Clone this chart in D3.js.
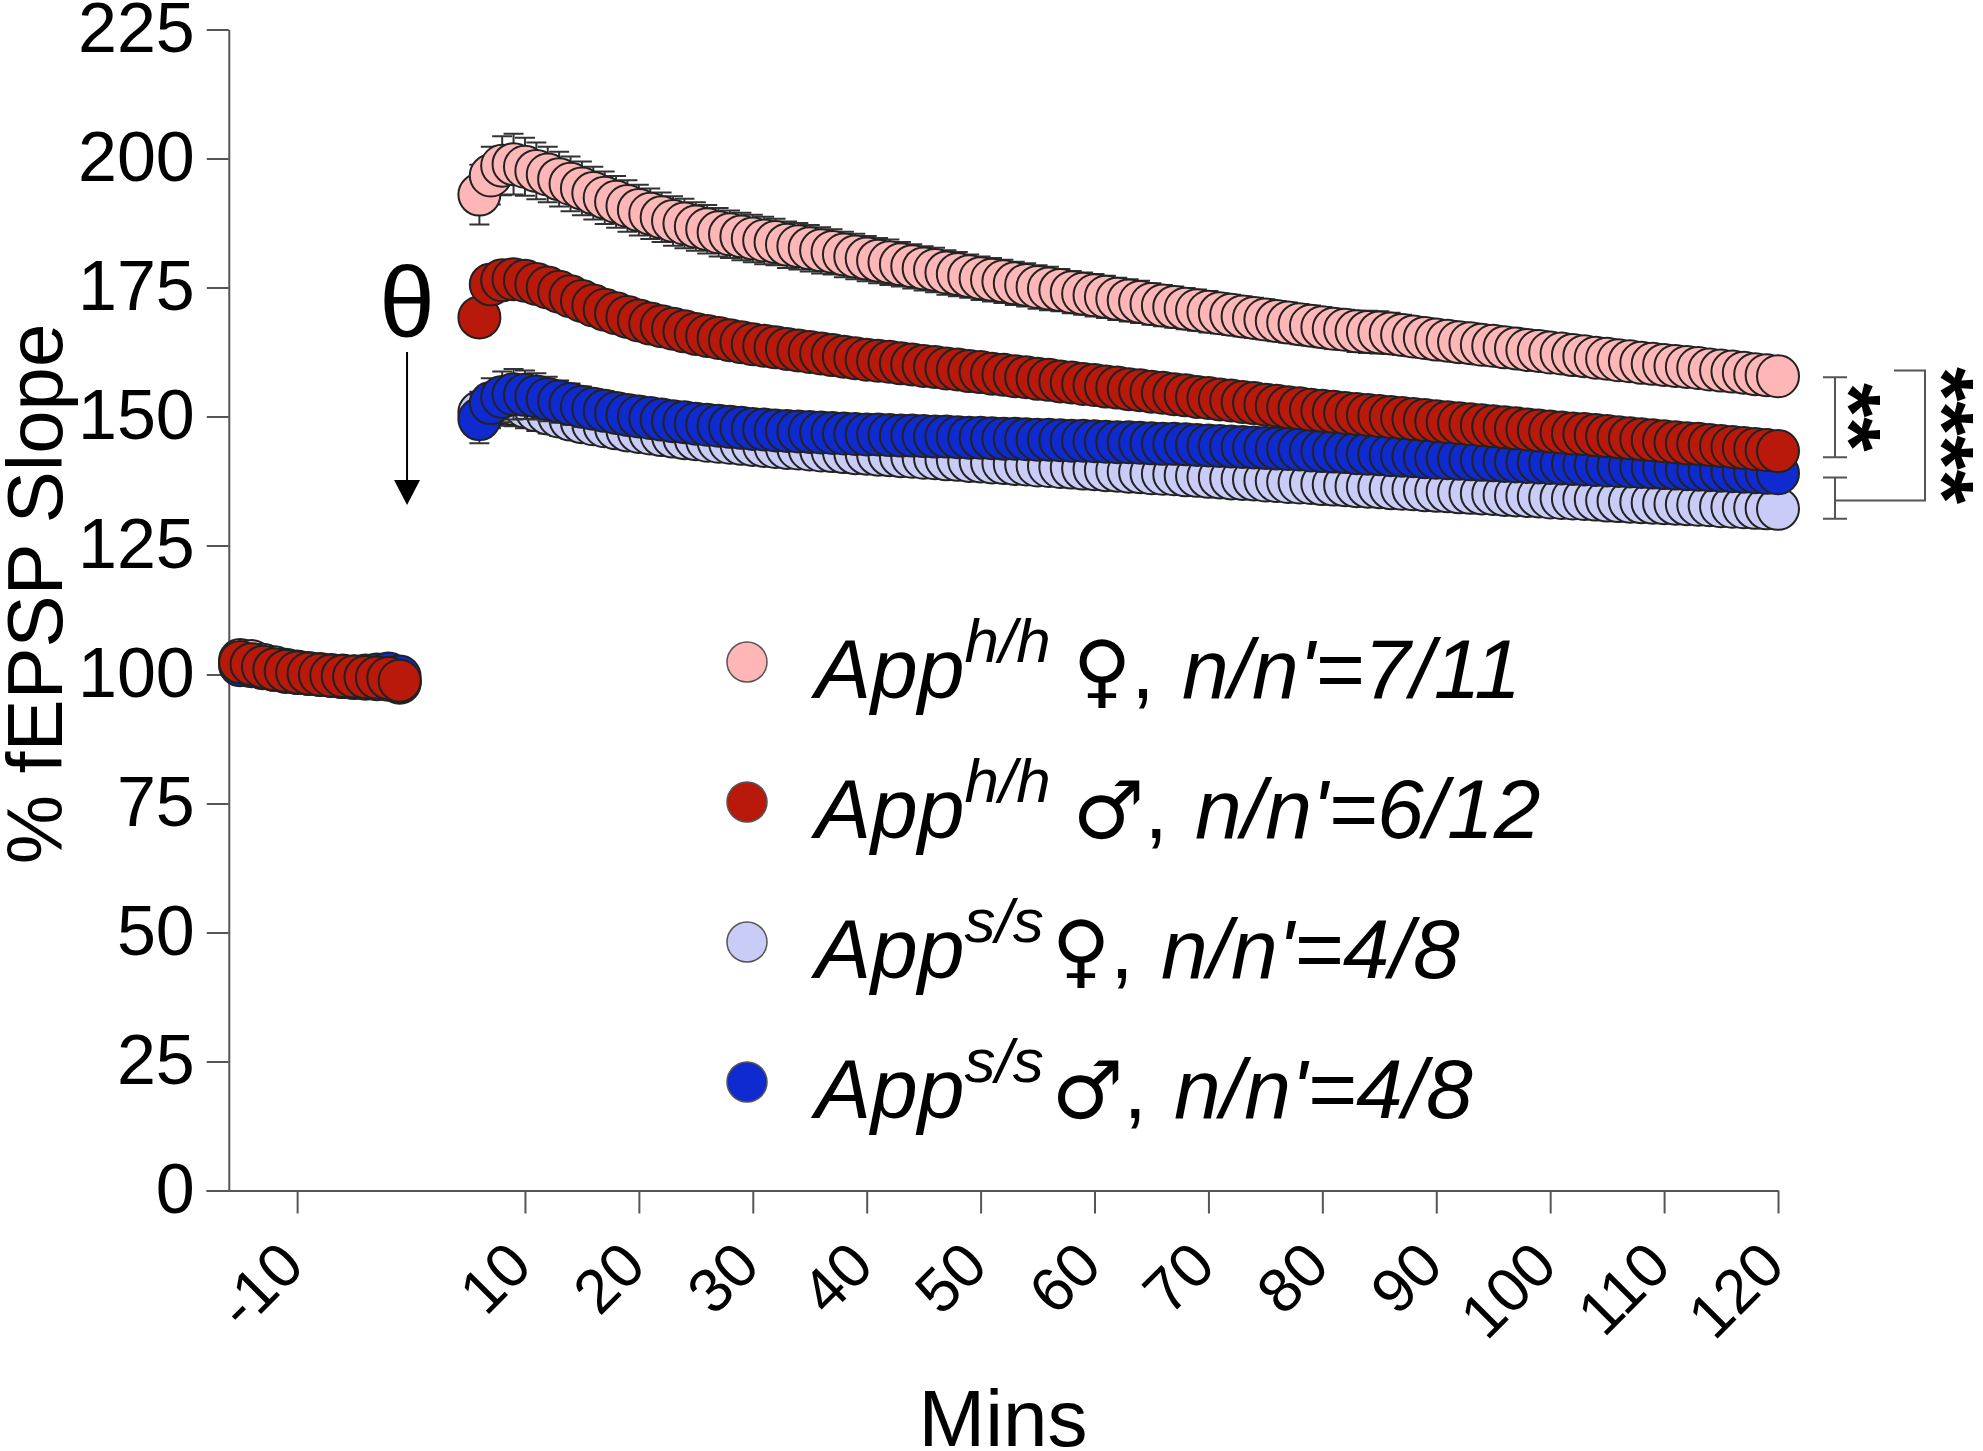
<!DOCTYPE html>
<html lang="en">
<head>
<meta charset="UTF-8">
<title>% fEPSP Slope</title>
<script src="https://cdn.jsdelivr.net/npm/d3@7"></script>
<style>
  body { margin: 0; background: #fff; }
  svg { display: block; font-family: "Liberation Sans", Arial, sans-serif; }
  .axis path, .axis line { stroke: #555; stroke-width: 2; }
  .axis text { fill: #000; }
</style>
</head>
<body>
<svg id="chart" width="1983" height="1451"></svg>
<script>
// time points (min)
const baseMins = [-15, -14, -13, -12, -11, -10, -9, -8, -7, -6, -5, -4, -3, -2, -1];
const postMins = d3.range(6, 121);

// baseline values (-15..-1)
const pinkBase = [102.8, 102.6, 101.9, 101.4, 100.9, 100.6, 100.3, 100.1, 99.9, 99.8, 99.6, 99.5, 99.4, 99.2, 98.4];
const redBase = [102.4, 102.0, 101.5, 101.0, 100.7, 100.4, 100.2, 100.0, 99.8, 99.7, 99.6, 99.5, 99.4, 99.3, 98.8];
const lavBase = [102.0, 101.8, 101.4, 100.9, 100.6, 100.3, 100.1, 99.9, 99.7, 99.5, 99.3, 99.2, 99.1, 99.0, 98.6];
const blueBase = [101.8, 101.6, 101.2, 100.9, 100.5, 100.3, 100.1, 99.9, 99.7, 99.5, 99.6, 99.8, 100.0, 100.2, 99.6];

// post-theta values (6..120 min)
const pinkPost = [
  193.0, 196.7, 198.6, 198.9, 198.4, 197.6, 196.9, 196.0, 195.1, 194.2,
  193.3, 192.4, 191.6, 190.8, 190.0, 189.3, 188.6, 187.9, 187.4, 186.8,
  186.3, 185.7, 185.3, 184.9, 184.5, 184.1, 183.8, 183.3, 183.0, 182.6,
  182.2, 181.9, 181.4, 181.0, 180.6, 180.2, 179.9, 179.5, 179.1, 178.7,
  178.4, 177.9, 177.6, 177.2, 176.8, 176.5, 176.2, 175.8, 175.5, 175.1,
  174.8, 174.5, 174.1, 173.8, 173.5, 173.2, 172.8, 172.5, 172.2, 171.8,
  171.5, 171.2, 170.9, 170.6, 170.3, 170.0, 169.7, 169.4, 169.1, 168.8,
  168.5, 168.2, 167.9, 167.6, 167.3, 167.0, 166.8, 166.5, 166.4, 166.3,
  166.1, 165.8, 165.5, 165.2, 164.9, 164.7, 164.4, 164.2, 163.9, 163.7,
  163.4, 163.2, 162.9, 162.7, 162.4, 162.2, 161.9, 161.7, 161.4, 161.2,
  160.9, 160.7, 160.4, 160.2, 160.0, 159.8, 159.6, 159.4, 159.1, 158.9,
  158.7, 158.5, 158.2, 158.0, 157.8
];
const redPost = [
  169.2, 175.6, 176.4, 176.6, 176.3, 175.7, 175.0, 174.2, 173.3, 172.4,
  171.5, 170.7, 170.0, 169.3, 168.6, 168.0, 167.5, 167.0, 166.5, 166.0,
  165.6, 165.2, 164.8, 164.4, 164.0, 163.7, 163.4, 163.1, 162.8, 162.5,
  162.2, 161.9, 161.6, 161.3, 161.0, 160.8, 160.6, 160.3, 160.1, 159.8,
  159.6, 159.3, 159.1, 158.8, 158.6, 158.3, 158.1, 157.8, 157.6, 157.3,
  157.1, 156.8, 156.6, 156.3, 156.1, 155.8, 155.6, 155.3, 155.1, 154.8,
  154.6, 154.3, 154.1, 153.8, 153.6, 153.3, 153.1, 152.8, 152.6, 152.3,
  152.1, 151.8, 151.6, 151.3, 151.1, 150.9, 150.7, 150.5, 150.3, 150.1,
  149.9, 149.7, 149.5, 149.3, 149.1, 148.9, 148.7, 148.5, 148.3, 148.1,
  147.9, 147.7, 147.5, 147.3, 147.1, 146.9, 146.7, 146.6, 146.4, 146.2,
  146.0, 145.8, 145.6, 145.4, 145.2, 145.0, 144.8, 144.7, 144.5, 144.3,
  144.1, 143.9, 143.7, 143.5, 143.3
];
const lavPost = [
  150.8, 152.0, 152.6, 152.4, 151.9, 151.2, 150.6, 150.0, 149.4, 148.9,
  148.5, 148.1, 147.7, 147.3, 147.0, 146.7, 146.4, 146.1, 145.8, 145.6,
  145.3, 145.1, 144.9, 144.7, 144.5, 144.3, 144.1, 143.9, 143.8, 143.6,
  143.4, 143.3, 143.1, 142.9, 142.8, 142.6, 142.5, 142.3, 142.2, 142.0,
  141.9, 141.7, 141.6, 141.4, 141.3, 141.1, 141.0, 140.8, 140.7, 140.5,
  140.4, 140.2, 140.1, 139.9, 139.8, 139.6, 139.5, 139.3, 139.2, 139.0,
  138.9, 138.8, 138.6, 138.5, 138.3, 138.2, 138.0, 137.9, 137.8, 137.6,
  137.5, 137.3, 137.2, 137.1, 136.9, 136.8, 136.7, 136.5, 136.4, 136.3,
  136.1, 136.0, 135.9, 135.7, 135.6, 135.5, 135.3, 135.2, 135.1, 135.0,
  134.8, 134.7, 134.6, 134.5, 134.3, 134.2, 134.1, 134.0, 133.9, 133.7,
  133.6, 133.5, 133.4, 133.3, 133.2, 133.1, 133.0, 132.9, 132.8, 132.6,
  132.5, 132.4, 132.3, 132.2, 132.1
];
const bluePost = [
  149.5, 152.6, 153.8, 154.3, 154.2, 153.9, 153.4, 152.9, 152.4, 151.9,
  151.5, 151.1, 150.7, 150.3, 150.0, 149.7, 149.4, 149.1, 148.9, 148.6,
  148.4, 148.2, 148.0, 147.8, 147.6, 147.5, 147.3, 147.2, 147.1, 147.0,
  146.9, 146.8, 146.7, 146.6, 146.5, 146.5, 146.4, 146.3, 146.3, 146.2,
  146.1, 146.1, 146.0, 145.9, 145.9, 145.8, 145.7, 145.7, 145.6, 145.5,
  145.5, 145.4, 145.3, 145.3, 145.2, 145.1, 145.0, 145.0, 144.9, 144.8,
  144.7, 144.7, 144.6, 144.5, 144.4, 144.3, 144.2, 144.1, 144.0, 143.9,
  143.8, 143.7, 143.6, 143.4, 143.3, 143.2, 143.1, 142.9, 142.8, 142.7,
  142.5, 142.4, 142.3, 142.1, 142.0, 141.9, 141.8, 141.7, 141.6, 141.5,
  141.4, 141.3, 141.2, 141.1, 141.0, 140.9, 140.8, 140.7, 140.6, 140.5,
  140.4, 140.3, 140.2, 140.1, 140.0, 139.9, 139.8, 139.7, 139.6, 139.5,
  139.4, 139.3, 139.2, 139.1, 139.0
];

// SEM (post-theta, 6..120 min)
const pinkSem = [
  5.8, 5.6, 5.7, 5.9, 5.6, 5.5, 5.4, 5.3, 5.3, 5.2,
  5.1, 5.1, 5.0, 5.0, 4.9, 4.9, 4.8, 4.8, 4.8, 4.7,
  4.7, 4.7, 4.6, 4.6, 4.6, 4.6, 4.5, 4.5, 4.5, 4.5,
  4.5, 4.4, 4.4, 4.4, 4.4, 4.4, 4.4, 4.3, 4.3, 4.3,
  4.3, 4.3, 4.3, 4.2, 4.2, 4.2, 4.2, 4.2, 4.2, 4.2,
  4.2, 4.1, 4.1, 4.1, 4.1, 4.1, 4.1, 4.1, 4.1, 4.0,
  4.0, 4.0, 4.0, 4.0, 4.0, 3.9, 3.9, 3.9, 3.9, 3.9,
  3.9, 3.9, 3.9, 3.9, 3.9, 3.9, 3.9, 4.0, 4.1, 4.1,
  4.0, 3.9, 3.8, 3.8, 3.8, 3.8, 3.8, 3.8, 3.8, 3.8,
  3.8, 3.8, 3.8, 3.8, 3.8, 3.7, 3.7, 3.7, 3.7, 3.7,
  3.7, 3.7, 3.7, 3.7, 3.7, 3.7, 3.7, 3.6, 3.6, 3.6,
  3.6, 3.6, 3.5, 3.5, 3.5
];
const redSem = [
  3.5, 3.4, 3.3, 3.3, 3.2, 3.2, 3.1, 3.1, 3.1, 3.0,
  3.0, 3.0, 3.0, 3.0, 2.9, 2.9, 2.9, 2.9, 2.9, 2.9,
  2.8, 2.8, 2.8, 2.8, 2.8, 2.8, 2.8, 2.8, 2.7, 2.7,
  2.7, 2.7, 2.7, 2.7, 2.7, 2.7, 2.7, 2.7, 2.6, 2.6,
  2.6, 2.6, 2.6, 2.6, 2.6, 2.6, 2.6, 2.6, 2.6, 2.6,
  2.6, 2.5, 2.5, 2.5, 2.5, 2.5, 2.5, 2.5, 2.5, 2.5,
  2.5, 2.5, 2.5, 2.5, 2.5, 2.5, 2.4, 2.4, 2.4, 2.4,
  2.4, 2.4, 2.4, 2.4, 2.4, 2.4, 2.4, 2.4, 2.4, 2.4,
  2.4, 2.4, 2.3, 2.3, 2.3, 2.3, 2.3, 2.3, 2.3, 2.3,
  2.3, 2.3, 2.3, 2.3, 2.3, 2.3, 2.3, 2.3, 2.3, 2.2,
  2.2, 2.2, 2.2, 2.2, 2.2, 2.2, 2.2, 2.2, 2.2, 2.2,
  2.2, 2.2, 2.2, 2.2, 2.2
];
const lavSem = [
  4.0, 4.3, 4.4, 4.3, 4.2, 4.0, 3.9, 3.8, 3.7, 3.7,
  3.6, 3.6, 3.5, 3.5, 3.5, 3.4, 3.4, 3.4, 3.4, 3.3,
  3.3, 3.3, 3.3, 3.3, 3.2, 3.2, 3.2, 3.2, 3.2, 3.2,
  3.2, 3.1, 3.1, 3.1, 3.1, 3.1, 3.1, 3.1, 3.1, 3.0,
  3.0, 3.0, 3.0, 3.0, 3.0, 3.0, 3.0, 3.0, 3.0, 3.0,
  2.9, 2.9, 2.9, 2.9, 2.9, 2.9, 2.9, 2.9, 2.9, 2.9,
  2.9, 2.9, 2.8, 2.8, 2.8, 2.8, 2.8, 2.8, 2.8, 2.8,
  2.8, 2.8, 2.8, 2.8, 2.8, 2.7, 2.7, 2.7, 2.7, 2.7,
  2.7, 2.7, 2.7, 2.7, 2.7, 2.7, 2.7, 2.7, 2.6, 2.6,
  2.6, 2.6, 2.6, 2.6, 2.6, 2.6, 2.6, 2.6, 2.6, 2.6,
  2.6, 2.6, 2.6, 2.5, 2.5, 2.5, 2.5, 2.5, 2.5, 2.5,
  2.5, 2.5, 2.5, 2.5, 2.5
];
const blueSem = [
  4.7, 4.8, 4.9, 4.9, 4.7, 4.5, 4.3, 4.1, 4.0, 3.9,
  3.8, 3.8, 3.7, 3.7, 3.6, 3.6, 3.6, 3.5, 3.5, 3.5,
  3.5, 3.4, 3.4, 3.4, 3.4, 3.4, 3.3, 3.3, 3.3, 3.3,
  3.3, 3.3, 3.2, 3.2, 3.2, 3.2, 3.2, 3.2, 3.2, 3.1,
  3.1, 3.1, 3.1, 3.1, 3.1, 3.1, 3.1, 3.0, 3.0, 3.0,
  3.0, 3.0, 3.0, 3.0, 3.0, 3.0, 3.0, 2.9, 2.9, 2.9,
  2.9, 2.9, 2.9, 2.9, 2.9, 2.9, 2.9, 2.9, 2.9, 2.8,
  2.8, 2.8, 2.8, 2.8, 2.8, 2.8, 2.8, 2.8, 2.8, 2.8,
  2.8, 2.8, 2.7, 2.7, 2.7, 2.7, 2.7, 2.7, 2.7, 2.7,
  2.7, 2.7, 2.7, 2.7, 2.7, 2.7, 2.7, 2.6, 2.6, 2.6,
  2.6, 2.6, 2.6, 2.6, 2.6, 2.6, 2.6, 2.6, 2.6, 2.6,
  2.6, 2.6, 2.6, 2.6, 2.6
];

// legend / series meta
const legendGeno = ["h/h", "h/h", "s/s", "s/s"];
const legendSex = ["♀", "♂", "♀", "♂"];
const legendN = ["7/11", "6/12", "4/8", "4/8"];
const legendColors = ["#ffb6b6", "#b8190b", "#c9ccf6", "#0f2bd0"];

// axis ticks
const yTicks = [0, 25, 50, 75, 100, 125, 150, 175, 200, 225];
const xTicks = [-10, 10, 20, 30, 40, 50, 60, 70, 80, 90, 100, 110, 120];

// significance brackets [from, to] in % units, at end of recording
const bracketPairs = [[157.6, 142.1], [138.2, 130.2]];
const bigBracket = [158.9, 133.7];
const starLabels = ["**", "****"];

const series = [
  { key: "pink", color: legendColors[0], base: pinkBase, post: pinkPost, sem: pinkSem },
  { key: "lav",  color: legendColors[2], base: lavBase,  post: lavPost,  sem: lavSem },
  { key: "blue", color: legendColors[3], base: blueBase, post: bluePost, sem: blueSem },
  { key: "red",  color: legendColors[1], base: redBase,  post: redPost,  sem: redSem }
];

const svg = d3.select("#chart");

const x = d3.scaleLinear().domain([-18, 120]).range([206, 1778]);
const y = d3.scaleLinear().domain([0, 225]).range([1190.5, 29.5]);
const x0 = x(-16);
const r = 21;

// axes
const yAxis = svg.append("g")
  .attr("class", "axis")
  .attr("transform", `translate(${x0},0)`)
  .call(d3.axisLeft(y).tickValues(yTicks).tickSize(22).tickSizeOuter(0).tickPadding(12));
yAxis.selectAll("text").style("font-size", "70px");

const xAxis = svg.append("g")
  .attr("class", "axis")
  .attr("transform", `translate(0,${y(0)})`)
  .call(d3.axisBottom(x).tickValues(xTicks).tickSize(23).tickSizeOuter(0)
    .tickFormat(d => (d < 0 ? "-" : "") + Math.abs(d)));
xAxis.selectAll("text")
  .style("font-size", "62px")
  .attr("text-anchor", "end")
  .attr("x", 0).attr("y", 0).attr("dy", null)
  .attr("transform", "translate(9,78) rotate(-45)");

// axis titles
svg.append("text")
  .attr("transform", "translate(62,594) rotate(-90)")
  .attr("text-anchor", "middle")
  .style("font-size", "78px")
  .text("% fEPSP Slope");

svg.append("text")
  .attr("x", 1003).attr("y", 1446)
  .attr("text-anchor", "middle")
  .style("font-size", "80px")
  .text("Mins");

// series
series.forEach(s => {
  const g = svg.append("g");
  const pts = baseMins.map((m, i) => ({ m, v: s.base[i], e: 1.2 }))
    .concat(postMins.map((m, i) => ({ m, v: s.post[i], e: s.sem[i] })));

  g.selectAll("path.err")
    .data(pts)
    .enter().append("path")
    .attr("class", "err")
    .attr("fill", "none")
    .attr("stroke", "#333")
    .attr("stroke-width", 2)
    .attr("d", d => {
      const cx = x(d.m), t = y(d.v + d.e), b = y(d.v - d.e);
      return `M${cx - 10},${t}H${cx + 10}M${cx},${t}V${b}M${cx - 10},${b}H${cx + 10}`;
    });

  g.selectAll("circle")
    .data(pts)
    .enter().append("circle")
    .attr("cx", d => x(d.m))
    .attr("cy", d => y(d.v))
    .attr("r", r)
    .attr("fill", s.color)
    .attr("stroke", "#222")
    .attr("stroke-width", 2);
});

// theta burst marker
const tx = x(0) - 4;
svg.append("text")
  .attr("x", tx).attr("y", 337)
  .attr("text-anchor", "middle")
  .style("font-size", "100px")
  .text("θ");
svg.append("line")
  .attr("x1", tx).attr("x2", tx)
  .attr("y1", 352).attr("y2", 484)
  .attr("stroke", "#000").attr("stroke-width", 2);
svg.append("path")
  .attr("d", `M${tx - 13},480L${tx + 13},480L${tx},505Z`)
  .attr("fill", "#000");

// significance brackets
const bx = 1835;
bracketPairs.forEach(p => {
  svg.append("path")
    .attr("fill", "none").attr("stroke", "#555").attr("stroke-width", 2)
    .attr("d", `M${bx - 12},${y(p[0])}H${bx + 12}M${bx},${y(p[0])}V${y(p[1])}M${bx - 12},${y(p[1])}H${bx + 12}`);
});
svg.append("path")
  .attr("fill", "none").attr("stroke", "#555").attr("stroke-width", 2)
  .attr("d", `M1894,${y(bigBracket[0])}H1925V${y(bigBracket[1])}H${bx}`);

svg.append("text")
  .attr("transform", `translate(1820,${y((bracketPairs[0][0] + bracketPairs[0][1]) / 2)}) rotate(90)`)
  .attr("text-anchor", "middle")
  .style("font-size", "88px").style("font-weight", "bold")
  .text(starLabels[0]);
svg.append("text")
  .attr("transform", `translate(1913,${y((bigBracket[0] + bigBracket[1]) / 2)}) rotate(90)`)
  .attr("text-anchor", "middle")
  .style("font-size", "88px").style("font-weight", "bold")
  .text(starLabels[1]);

// legend
const legend = svg.append("g");
legendGeno.forEach((geno, i) => {
  const ly = 662 + i * 140;
  legend.append("circle")
    .attr("cx", 747).attr("cy", ly).attr("r", 20)
    .attr("fill", legendColors[i])
    .attr("stroke", "#555").attr("stroke-width", 1.5);
  const t = legend.append("text")
    .attr("x", 815).attr("y", ly + 36)
    .style("font-size", "84px");
  t.append("tspan").style("font-style", "italic").text("App");
  t.append("tspan").style("font-style", "italic").style("font-size", "62px")
    .attr("dy", -36).text(geno);
  t.append("tspan").attr("dy", 36).attr("dx", i < 2 ? 22 : 8)
    .style("font-family", "'DejaVu Sans'").style("font-size", "80px")
    .text(legendSex[i]);
  t.append("tspan").text(",");
  t.append("tspan").style("font-style", "italic").attr("dx", 4).text(" n/n'=" + legendN[i]);
});
</script>
</body>
</html>
